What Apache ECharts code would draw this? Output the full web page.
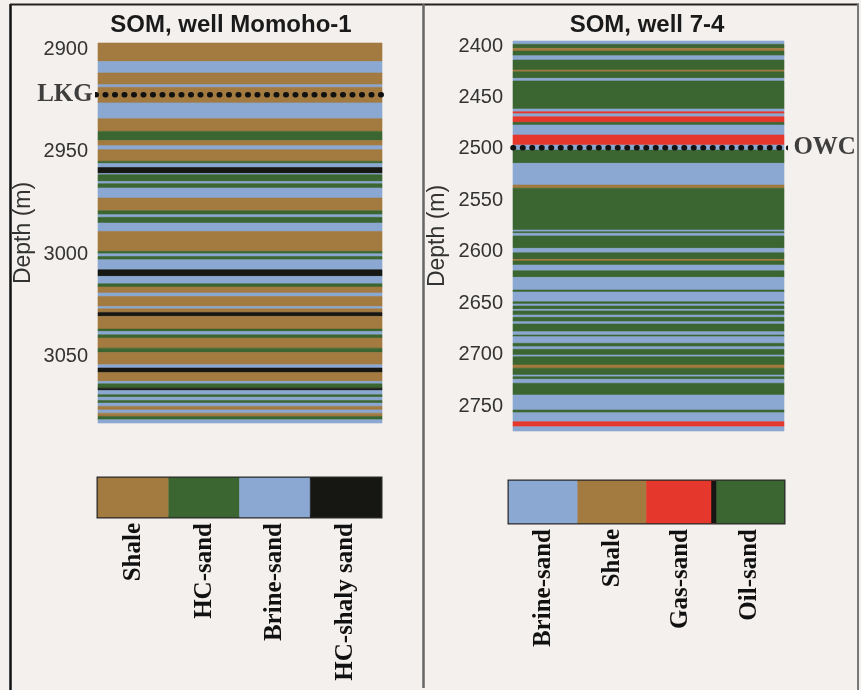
<!DOCTYPE html>
<html>
<head>
<meta charset="utf-8">
<script src="https://cdn.jsdelivr.net/npm/echarts@6/dist/echarts.min.js"></script>
<style>
  html, body { margin: 0; padding: 0; background: #f3f0ed; }
  #chart { width: 861px; height: 690px; }
</style>
</head>
<body>
<div id="chart"></div>
<script>
// Facies classes shown in each well's colour key
const momohoClasses = ['Shale', 'HC-sand', 'Brine-sand', 'HC-shaly sand'];
const well74Classes = ['Brine-sand', 'Shale', 'Gas-sand', 'Oil-sand'];

// Facies codes used in the layer lists
const codeName = { S: 'Shale', H: 'HC-sand', B: 'Brine-sand', K: 'HC-shaly sand', G: 'Gas-sand', O: 'Oil-sand' };

// Well Momoho-1: layer boundaries (m) and the facies of each layer
const momohoDepths = [2897.0, 2906.0, 2911.6, 2917.3, 2918.6, 2926.2, 2933.9, 2940.1, 2944.6, 2947.1,
  2949.0, 2954.7, 2955.7, 2957.7, 2960.6, 2961.2, 2964.5, 2965.6, 2967.7, 2972.6,
  2978.8, 2980.7, 2982.0, 2984.8, 2988.9, 2998.6, 2999.8, 3001.1, 3002.7, 3007.6,
  3010.8, 3014.4, 3016.0, 3018.9, 3020.6, 3025.5, 3026.6, 3028.4, 3030.3, 3036.5,
  3037.7, 3039.3, 3040.9, 3045.8, 3047.9, 3053.9, 3055.5, 3057.7, 3062.0, 3063.2,
  3065.3, 3066.4, 3068.5, 3069.7, 3071.3, 3072.6, 3074.2, 3075.9, 3077.5, 3079.1,
  3080.7, 3082.3];
const momohoFacies = ['S','B','S','B','S','B','S','H','S','B',
  'S','H','B','K','B','H','B','H','B','S',
  'H','B','H','B','S','H','B','H','B','K',
  'B','H','S','B','S','B','S','K','S','H',
  'B','H','S','H','S','B','K','S','B','H',
  'K','B','H','B','H','B','S','B','S','H',
  'B'];

// Well 7-4: layer boundaries (m) and the facies of each layer
const well74Depths = [2395.1, 2398.3, 2402.2, 2404.9, 2409.4, 2413.6, 2423.3, 2425.0, 2431.4, 2434.0,
  2461.2, 2463.9, 2465.8, 2468.7, 2474.2, 2476.8, 2486.5, 2496.2, 2501.1, 2514.0,
  2535.1, 2538.3, 2578.9, 2580.5, 2582.1, 2584.7, 2596.7, 2601.0, 2607.4, 2609.0,
  2612.9, 2618.5, 2624.9, 2637.2, 2639.2, 2648.6, 2650.8, 2652.8, 2656.0, 2657.6,
  2661.5, 2663.8, 2668.0, 2670.3, 2677.8, 2681.0, 2682.6, 2689.0, 2692.3, 2694.9,
  2700.4, 2702.1, 2710.1, 2713.3, 2719.9, 2721.5, 2724.0, 2727.9, 2739.3, 2753.9,
  2756.5, 2765.3, 2770.1, 2774.3];
const well74Facies = ['B','O','S','O','B','O','S','O','B','O',
  'B','G','B','G','O','B','G','B','O','B',
  'S','O','B','O','B','O','B','O','S','O',
  'B','O','B','O','B','O','B','O','B','O',
  'B','O','B','O','B','O','B','O','B','O',
  'B','O','S','O','B','O','B','O','B','O',
  'B','G','B'];

// Marker horizons
const lkgDepth = 2922.2;
const owcDepth = 2499.0;

// Depth tick labels
const momohoTicks = [2900, 2950, 3000, 3050];
const well74Ticks = [2400, 2450, 2500, 2550, 2600, 2650, 2700, 2750];

// Display colours per facies class
const faciesColor = {
  'Shale': '#a37a3f',
  'HC-sand': '#3b6631',
  'Brine-sand': '#8aa8d2',
  'HC-shaly sand': '#161613',
  'Gas-sand': '#e5372b',
  'Oil-sand': '#3b6631'
};

function layerData(depths, facies) {
  return facies.map((code, i) => ({
    value: [0, depths[i], depths[i + 1]],
    itemStyle: { color: faciesColor[codeName[code]] }
  }));
}

// Each layer is a full-width band between its top and base depth
function layerRect(params, api) {
  const a = api.coord([0, api.value(1)]);
  const b = api.coord([1, api.value(2)]);
  const c = api.visual('color');
  return {
    type: 'rect',
    shape: { x: a[0], y: a[1], width: b[0] - a[0], height: b[1] - a[1] },
    style: { fill: c, stroke: c, lineWidth: 0.6 }
  };
}

// One colour cell per class in the key; the oil-sand cell carries a dark edge on its left
function keyCell(params, api) {
  const bw = api.size([1, 0])[0];
  const top = api.coord([api.value(0), 1]);
  const bot = api.coord([api.value(0), 0]);
  const x0 = top[0] - bw / 2;
  const c = api.visual('color');
  const children = [{
    type: 'rect',
    shape: { x: x0, y: top[1], width: bw, height: bot[1] - top[1] },
    style: { fill: c, stroke: c, lineWidth: 0.5 }
  }];
  if (api.value(2) === 1) {
    children.push({
      type: 'rect', z2: 5,
      shape: { x: x0 - 4, y: top[1], width: 5, height: bot[1] - top[1] },
      style: { fill: '#151513' }
    });
  }
  return { type: 'group', children };
}

const sans = 'Liberation Sans, Arial, sans-serif';
const serif = 'Liberation Serif, Times New Roman, serif';

function depthAxis(gridIndex, lo, hi, ticks, gap) {
  return {
    gridIndex, type: 'value', inverse: true, min: lo, max: hi,
    name: 'Depth (m)', nameLocation: 'middle', nameGap: gap, nameRotate: 90,
    nameTextStyle: { fontFamily: sans, fontSize: 23, color: '#333' },
    axisLine: { show: false }, axisTick: { show: false }, splitLine: { show: false },
    axisLabel: { customValues: ticks, formatter: v => String(v), fontFamily: sans, fontSize: 20, color: '#333', margin: 10 }
  };
}

function keyAxis(gridIndex, classes, margin) {
  return {
    gridIndex, type: 'category', data: classes,
    axisLine: { show: false }, axisTick: { show: false },
    axisLabel: { rotate: 90, margin, fontFamily: serif, fontWeight: 'bold', fontSize: 25, color: '#111', interval: 0 }
  };
}

function keySeries(axisIndex, classes) {
  return {
    type: 'custom', xAxisIndex: axisIndex, yAxisIndex: axisIndex, silent: true,
    encode: { x: 0, y: 1 }, renderItem: keyCell,
    data: classes.map((n, i) => ({
      value: [i, 1, n === 'Oil-sand' ? 1 : 0],
      itemStyle: { color: faciesColor[n] }
    }))
  };
}

const dotted = { color: '#111', width: 5.5, type: [0.5, 9], cap: 'round' };
const markerText = { fontFamily: serif, fontWeight: 'bold', fontSize: 25, color: '#111' };

const chart = echarts.init(document.getElementById('chart'), null, { renderer: 'canvas' });
chart.setOption({
  backgroundColor: '#f3f0ed',
  animation: false,
  grid: [
    { left: 98, top: 43, width: 284, height: 380 },
    { left: 513, top: 41, width: 271, height: 390 },
    { left: 98, top: 478, width: 283, height: 39, show: true, borderColor: '#2a2a2a', borderWidth: 3, backgroundColor: 'transparent' },
    { left: 509, top: 481, width: 275, height: 42, show: true, borderColor: '#2a2a2a', borderWidth: 3, backgroundColor: 'transparent' }
  ],
  xAxis: [
    { gridIndex: 0, type: 'value', min: 0, max: 1, show: false },
    { gridIndex: 1, type: 'value', min: 0, max: 1, show: false },
    keyAxis(2, momohoClasses, 6),
    keyAxis(3, well74Classes, 6)
  ],
  yAxis: [
    depthAxis(0, momohoDepths[0], momohoDepths[momohoDepths.length - 1], momohoTicks, 63),
    depthAxis(1, well74Depths[0], well74Depths[well74Depths.length - 1], well74Ticks, 64),
    { gridIndex: 2, type: 'value', min: 0, max: 1, show: false },
    { gridIndex: 3, type: 'value', min: 0, max: 1, show: false }
  ],
  series: [
    {
      type: 'custom', xAxisIndex: 0, yAxisIndex: 0, silent: true,
      encode: { x: 0, y: [1, 2] }, renderItem: layerRect,
      data: layerData(momohoDepths, momohoFacies)
    },
    {
      type: 'custom', xAxisIndex: 1, yAxisIndex: 1, silent: true,
      encode: { x: 0, y: [1, 2] }, renderItem: layerRect,
      data: layerData(well74Depths, well74Facies)
    },
    keySeries(2, momohoClasses),
    keySeries(3, well74Classes),
    {
      type: 'line', xAxisIndex: 0, yAxisIndex: 0, silent: true, clip: false,
      symbol: 'none', lineStyle: dotted, z: 5,
      data: [[-0.008, lkgDepth], [1, lkgDepth]]
    },
    {
      type: 'scatter', xAxisIndex: 0, yAxisIndex: 0, silent: true, clip: false,
      symbolSize: 0, z: 6,
      label: { show: true, position: 'left', distance: 3, formatter: 'LKG', ...markerText },
      data: [[-0.008, lkgDepth]]
    },
    {
      type: 'line', xAxisIndex: 1, yAxisIndex: 1, silent: true, clip: false,
      symbol: 'none', lineStyle: dotted, z: 5,
      data: [[0, owcDepth], [1.02, owcDepth]]
    },
    {
      type: 'scatter', xAxisIndex: 1, yAxisIndex: 1, silent: true, clip: false,
      symbolSize: 0, z: 6,
      label: { show: true, position: 'right', distance: 4, formatter: 'OWC', ...markerText },
      data: [[1.02, owcDepth]]
    }
  ],
  graphic: [
    { type: 'text', x: 231, y: 25, silent: true,
      style: { text: 'SOM, well Momoho-1', fontFamily: sans, fontWeight: 'bold', fontSize: 24, fill: '#1a1a1a', align: 'center', verticalAlign: 'middle' } },
    { type: 'text', x: 647, y: 25, silent: true,
      style: { text: 'SOM, well 7-4', fontFamily: sans, fontWeight: 'bold', fontSize: 24, fill: '#1a1a1a', align: 'center', verticalAlign: 'middle' } },
    { type: 'line', silent: true, shape: { x1: 10.5, y1: 4, x2: 10.5, y2: 690 }, style: { stroke: '#111', lineWidth: 2.5 } },
    { type: 'line', silent: true, shape: { x1: 10, y1: 4.5, x2: 859, y2: 4.5 }, style: { stroke: '#222', lineWidth: 2 } },
    { type: 'line', silent: true, shape: { x1: 423.5, y1: 4, x2: 423.5, y2: 688 }, style: { stroke: '#666', lineWidth: 2.5 } },
    { type: 'line', silent: true, shape: { x1: 858, y1: 4, x2: 858, y2: 690 }, style: { stroke: '#777', lineWidth: 2 } }
  ]
});
</script>
</body>
</html>
